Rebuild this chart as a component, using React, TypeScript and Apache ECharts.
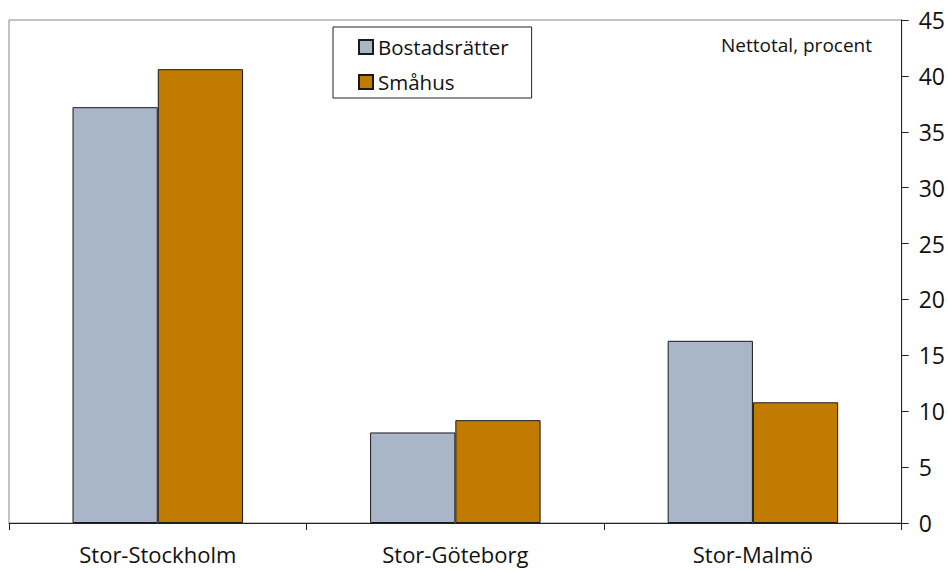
import React, { useEffect, useRef } from "react";
import * as echarts from "echarts";

const categories = ["Stor-Stockholm", "Stor-Göteborg", "Stor-Malmö"];
const bostadsratter = [37.2, 8.1, 16.3];
const smahus = [40.6, 9.2, 10.8];
const seriesNames = ["Bostadsrätter", "Småhus"];
const unitLabel = "Nettotal, procent";
const FONT = "'Open Sans', 'Noto Sans', sans-serif";

export default function App() {
  const ref = useRef<HTMLDivElement>(null);
  useEffect(() => {
    if (!ref.current) return;
    const chart = echarts.init(ref.current, null, { renderer: "svg" });
    chart.setOption({
      animation: false,
      textStyle: { fontFamily: FONT },
      grid: {
        left: 9,
        right: 46,
        top: 20,
        bottom: 48,
        show: true,
        borderColor: "#888888",
        borderWidth: 1,
        backgroundColor: "transparent",
      },
      legend: {
        orient: "vertical",
        left: 333,
        top: 27,
        padding: [9, 23, 5, 25],
        borderColor: "#222222",
        borderWidth: 1,
        itemWidth: 14,
        itemHeight: 14,
        itemGap: 13,
        icon: "rect",
        data: seriesNames,
        textStyle: { fontSize: 20.5, color: "#111111", lineHeight: 22, fontFamily: FONT },
      },
      graphic: [
        {
          type: "text",
          right: 76,
          top: 35,
          style: { text: unitLabel, fontSize: 19, fill: "#111111", fontFamily: FONT },
        },
      ],
      xAxis: {
        type: "category",
        data: categories,
        boundaryGap: true,
        axisLine: { show: true, lineStyle: { color: "#222222", width: 1 } },
        axisTick: { show: true, length: 7, inside: false, lineStyle: { color: "#222222" } },
        axisLabel: { margin: 20, fontSize: 22, color: "#111111", fontFamily: FONT },
        splitLine: { show: false },
      },
      yAxis: {
        type: "value",
        position: "right",
        min: 0,
        max: 45,
        interval: 5,
        axisLine: { show: true, lineStyle: { color: "#222222", width: 1 } },
        axisTick: { show: true, length: 7, inside: false, lineStyle: { color: "#222222" } },
        axisLabel: { margin: 17, fontSize: 23, color: "#111111", fontFamily: FONT },
        splitLine: { show: false },
      },
      series: [
        {
          name: seriesNames[0],
          type: "bar",
          data: bostadsratter,
          barGap: "0%",
          barCategoryGap: "42.7%",
          itemStyle: { color: "#A9B5C8", borderColor: "#1a1a1a", borderWidth: 1 },
        },
        {
          name: seriesNames[1],
          type: "bar",
          data: smahus,
          barGap: "0%",
          barCategoryGap: "42.7%",
          itemStyle: { color: "#C17C00", borderColor: "#1a1a1a", borderWidth: 1 },
        },
      ],
    });
    return () => chart.dispose();
  }, []);
  return <div ref={ref} style={{ width: 948, height: 571, position: "absolute", left: 0, top: 0, background: "#ffffff" }} />;
}
